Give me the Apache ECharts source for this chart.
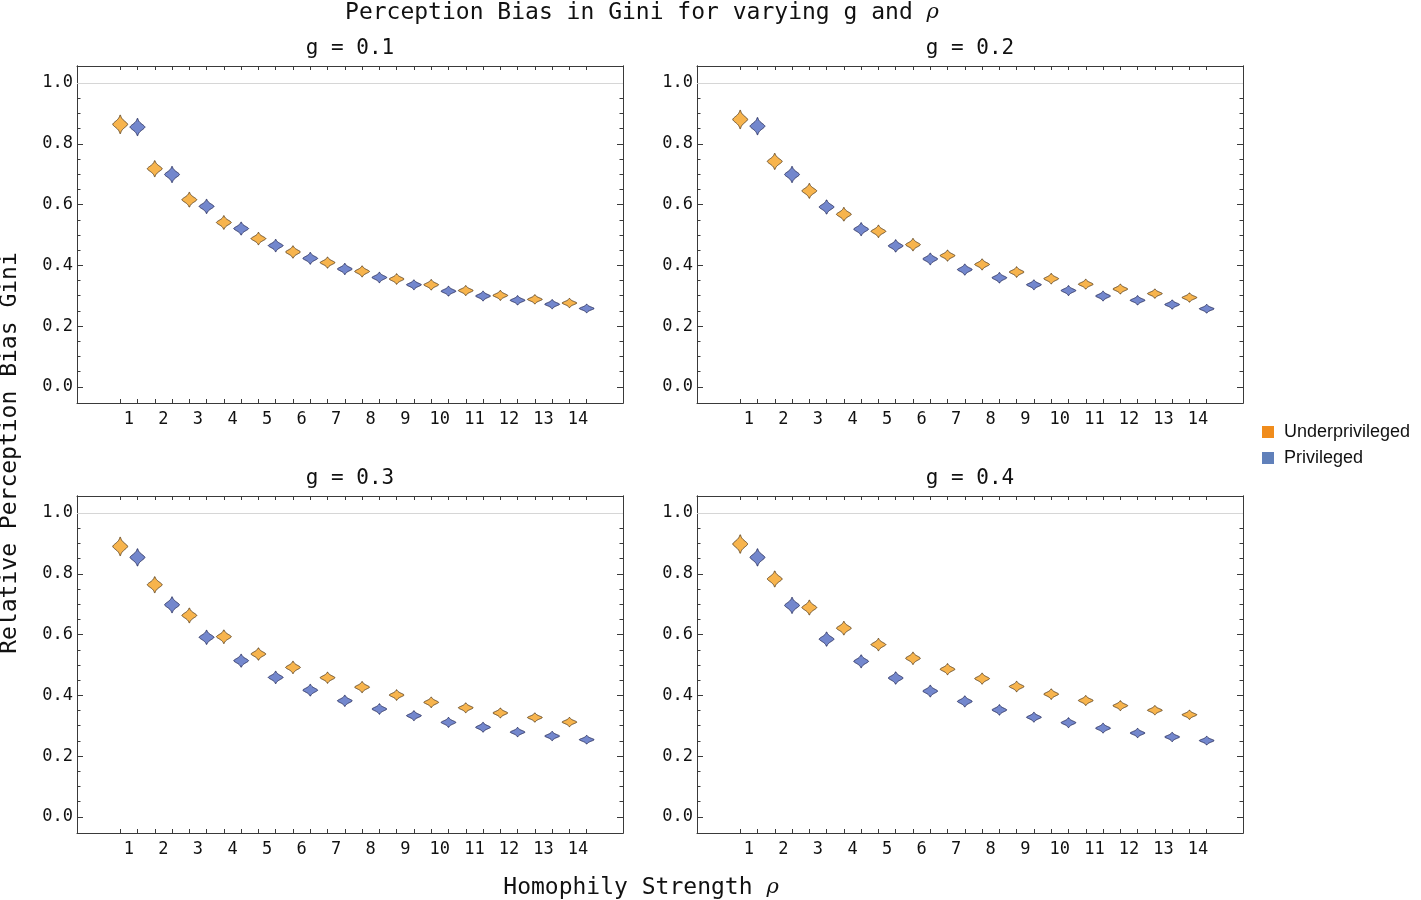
<!DOCTYPE html>
<html><head><meta charset="utf-8">
<script src="https://cdn.jsdelivr.net/npm/echarts@6.0.0/dist/echarts.min.js"></script>
<style>html,body{margin:0;padding:0;background:#fff}#c{width:1421px;height:900px}</style>
</head><body><div id="c"></div>
<script>
// ---------------- data ----------------
const categories = ['1','2','3','4','5','6','7','8','9','10','11','12','13','14'];
const panelTitles = ['g = 0.1','g = 0.2','g = 0.3','g = 0.4'];
const seriesNames = ['Underprivileged','Privileged'];

const under_g01 = [0.864,0.718,0.616,0.541,0.488,0.444,0.409,0.380,0.355,0.336,0.317,0.301,0.288,0.276];
const priv_g01  = [0.855,0.699,0.594,0.521,0.465,0.423,0.388,0.360,0.336,0.315,0.299,0.285,0.272,0.258];
const under_g02 = [0.880,0.742,0.645,0.568,0.512,0.468,0.432,0.403,0.378,0.356,0.338,0.322,0.307,0.294];
const priv_g02  = [0.858,0.699,0.592,0.519,0.464,0.421,0.386,0.359,0.336,0.317,0.299,0.285,0.271,0.257];
const under_g03 = [0.890,0.764,0.663,0.593,0.536,0.492,0.458,0.427,0.401,0.377,0.359,0.342,0.327,0.312];
const priv_g03  = [0.854,0.698,0.591,0.514,0.459,0.417,0.382,0.355,0.333,0.311,0.295,0.279,0.266,0.254];
const under_g04 = [0.898,0.783,0.689,0.621,0.567,0.522,0.486,0.455,0.429,0.404,0.383,0.366,0.351,0.336];
const priv_g04  = [0.854,0.696,0.585,0.512,0.457,0.414,0.380,0.352,0.328,0.310,0.292,0.276,0.263,0.251];

// half-extent of each violin (value units)
const spreadUnder = [0.030,0.026,0.024,0.022,0.020,0.020,0.018,0.018,0.017,0.017,0.016,0.016,0.015,0.015];
const spreadPriv  = [0.028,0.026,0.023,0.021,0.020,0.019,0.018,0.017,0.016,0.016,0.016,0.015,0.015,0.014];

const yMajorTicks = [0.0,0.2,0.4,0.6,0.8,1.0];
const yMinorTicks = [0.05,0.1,0.15,0.25,0.3,0.35,0.45,0.5,0.55,0.65,0.7,0.75,0.85,0.9,0.95];
const referenceLine = 1.0;

const panels = [
  {under: under_g01, priv: priv_g01},
  {under: under_g02, priv: priv_g02},
  {under: under_g03, priv: priv_g03},
  {under: under_g04, priv: priv_g04}
];

// ---------------- layout / style ----------------
const MONO = "'DejaVu Sans Mono', monospace";
const frameColor = '#3a3a3a';
const gridBoxes = [
  {left: 77, top: 66, width: 546, height: 337},
  {left: 697, top: 66, width: 546, height: 337},
  {left: 77, top: 496, width: 546, height: 337},
  {left: 697, top: 496, width: 546, height: 337}
];
const xMin = -1.5, xMax = 30.1, yMin = -0.053, yMax = 1.056;
const violinHalfWidth = 0.43;
const styles = [
  {fill: '#F7B44D', stroke: '#5b4322', legend: '#F08C1C'},
  {fill: '#7387CD', stroke: '#2a305e', legend: '#6080BA'}
];

// positions: pair k -> (2k+1) under, (2k+2) privileged
const violinPositions = [];
categories.forEach((c, i) => { violinPositions.push(2*i+1, 2*i+2); });
const labelPositions = categories.map((c, i) => 2*i + 1.5);

function profile(u) { return Math.exp(-Math.pow(Math.abs(u)/0.52, 1.7)); }
function makeRender(st) {
  return function (params, api) {
    const c = api.coord([api.value(0), api.value(1)]);
    const hh = Math.abs(api.size([0, api.value(2)])[1]);
    const hw = api.size([violinHalfWidth, 0])[0];
    const N = 40, pts = [];
    for (let k = 0; k <= N; k++) { const u = -1 + 2*k/N; pts.push([c[0] + hw*profile(u), c[1] + u*hh]); }
    for (let k = N; k >= 0; k--) { const u = -1 + 2*k/N; pts.push([c[0] - hw*profile(u), c[1] + u*hh]); }
    return {type: 'polygon', shape: {points: pts}, style: {fill: st.fill, stroke: st.stroke, lineWidth: 0.9}};
  };
}

const grid = [], xAxis = [], yAxis = [], series = [];
gridBoxes.forEach((g, gi) => {
  grid.push(Object.assign({containLabel: false}, g));
  const xBase = {type: 'value', gridIndex: gi, min: xMin, max: xMax, splitLine: {show: false},
    axisLine: {show: true, onZero: false, lineStyle: {color: frameColor, width: 1}}};
  xAxis.push(Object.assign({}, xBase, {position: 'bottom',
    axisTick: {show: true, inside: true, length: 4, customValues: violinPositions, lineStyle: {color: frameColor}},
    axisLabel: {show: true, customValues: labelPositions, margin: 8, fontFamily: MONO, fontSize: 17, color: '#111',
      formatter: v => categories[Math.round((v - 1.5)/2)]}}));
  xAxis.push(Object.assign({}, xBase, {position: 'top',
    axisTick: {show: true, inside: true, length: 4, customValues: violinPositions, lineStyle: {color: frameColor}},
    axisLabel: {show: false}}));
  const yBase = {type: 'value', gridIndex: gi, min: yMin, max: yMax, splitLine: {show: false},
    axisLine: {show: true, onZero: false, lineStyle: {color: frameColor, width: 1}}};
  yAxis.push(Object.assign({}, yBase, {position: 'left',
    axisTick: {show: true, inside: true, length: 6, customValues: yMajorTicks, lineStyle: {color: frameColor}},
    axisLabel: {show: true, customValues: yMajorTicks, margin: 4, fontFamily: MONO, fontSize: 17, color: '#111',
      formatter: v => v.toFixed(1)}}));
  yAxis.push(Object.assign({}, yBase, {position: 'left',
    axisTick: {show: true, inside: true, length: 3.5, customValues: yMinorTicks, lineStyle: {color: frameColor}},
    axisLabel: {show: false}}));
  yAxis.push(Object.assign({}, yBase, {position: 'right',
    axisTick: {show: true, inside: true, length: 6, customValues: yMajorTicks, lineStyle: {color: frameColor}},
    axisLabel: {show: false}}));
  yAxis.push(Object.assign({}, yBase, {position: 'right',
    axisTick: {show: true, inside: true, length: 3.5, customValues: yMinorTicks, lineStyle: {color: frameColor}},
    axisLabel: {show: false}}));

  const p = panels[gi];
  const groups = [
    {vals: p.under, spread: spreadUnder, offset: 1},
    {vals: p.priv, spread: spreadPriv, offset: 2}
  ];
  groups.forEach((grp, si) => {
    const data = grp.vals.map((v, i) => [2*i + grp.offset, v, grp.spread[i]]);
    const s = {
      type: 'custom', name: seriesNames[si], xAxisIndex: 2*gi, yAxisIndex: 4*gi,
      itemStyle: {color: styles[si].legend}, renderItem: makeRender(styles[si]),
      encode: {x: 0, y: 1}, data: data, silent: true, z: 3
    };
    if (si === 0) {
      s.markLine = {silent: true, symbol: 'none', animation: false, z: 1,
        lineStyle: {color: '#d6d6d6', width: 1, type: 'solid'}, label: {show: false},
        data: [{yAxis: referenceLine}]};
    }
    series.push(s);
  });
});

const graphic = [
  {type: 'text', x: 642, y: 13, style: {text: 'Perception Bias in Gini for varying g and {r|ρ}',
    font: "23px 'DejaVu Sans Mono'", fill: '#111', align: 'center', verticalAlign: 'middle',
    rich: {r: {fontFamily: 'DejaVu Serif', fontStyle: 'italic', fontSize: 21, fill: '#111'}}}},
  {type: 'text', x: 641, y: 888, style: {text: 'Homophily Strength {r|ρ}',
    font: "23px 'DejaVu Sans Mono'", fill: '#111', align: 'center', verticalAlign: 'middle',
    rich: {r: {fontFamily: 'DejaVu Serif', fontStyle: 'italic', fontSize: 21, fill: '#111'}}}},
  {type: 'text', x: 10, y: 453, rotation: Math.PI/2, style: {text: 'Relative Perception Bias Gini',
    font: "23px 'DejaVu Sans Mono'", fill: '#111', align: 'center', verticalAlign: 'middle'}}
];
gridBoxes.forEach((g, gi) => {
  graphic.push({type: 'text', x: g.left + g.width/2, y: g.top - 17, style: {text: panelTitles[gi],
    font: "21px 'DejaVu Sans Mono'", fill: '#111', align: 'center', verticalAlign: 'middle'}});
});

const chart = echarts.init(document.getElementById('c'), null, {renderer: 'canvas'});
chart.setOption({
  backgroundColor: '#ffffff',
  animation: false,
  legend: {data: seriesNames, orient: 'vertical', left: 1262, top: 423, itemWidth: 12, itemHeight: 12,
    itemGap: 8, icon: 'rect', padding: 0,
    textStyle: {fontFamily: "'Liberation Sans', Arial, sans-serif", fontSize: 18, color: '#111', padding: [0, 0, 0, 5]}},
  grid, xAxis, yAxis, series, graphic
});
</script></body></html>
